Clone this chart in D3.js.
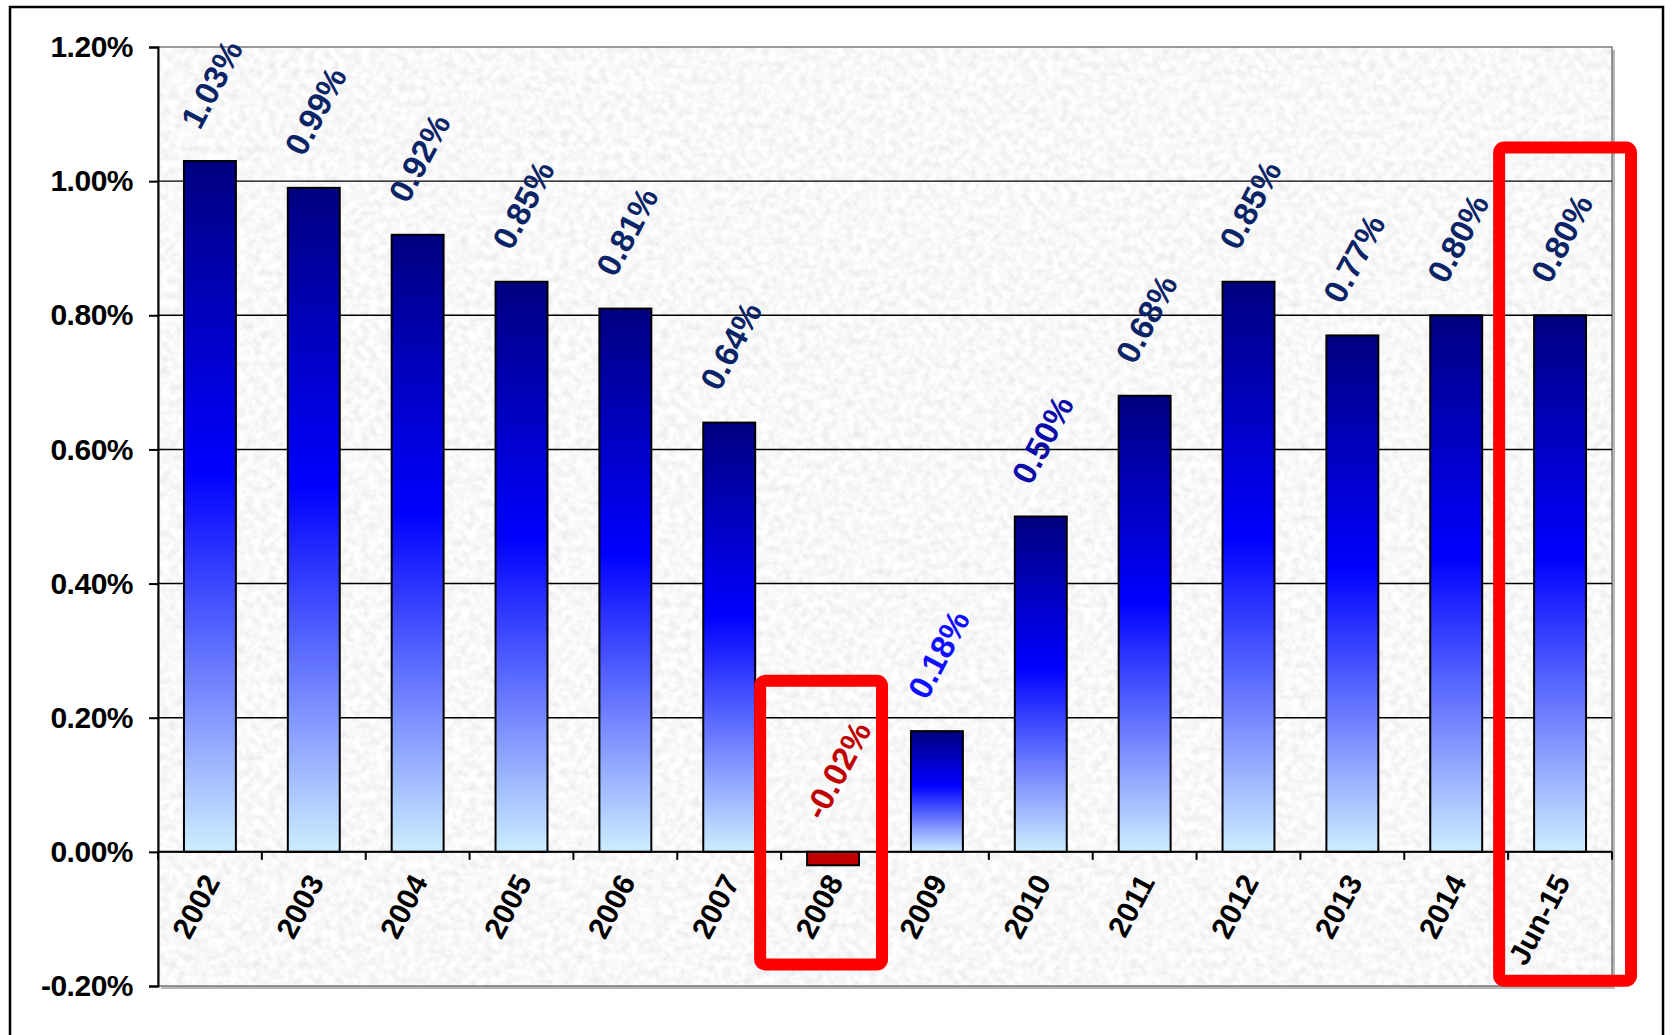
<!DOCTYPE html>
<html>
<head>
<meta charset="utf-8">
<script src="https://cdn.jsdelivr.net/npm/d3@7"></script>
<style>
  html, body { margin: 0; padding: 0; background: #ffffff; }
  svg { display: block; font-family: "Liberation Sans", Arial, sans-serif; }
</style>
</head>
<body>
<svg id="chart" width="1677" height="1035"></svg>
<script>
// Annual return per period
const categories = ["2002", "2003", "2004", "2005", "2006", "2007", "2008",
                    "2009", "2010", "2011", "2012", "2013", "2014", "Jun-15"];
const values = [1.03, 0.99, 0.92, 0.85, 0.81, 0.64, -0.02,
                0.18, 0.50, 0.68, 0.85, 0.77, 0.80, 0.80];
const yTicks = [-0.2, 0, 0.2, 0.4, 0.6, 0.8, 1.0, 1.2];
const highlighted = ["2008", "Jun-15"];

// Label colours by period
const labelColor = {
  "2008": "#c00000",
  "2009": "#1010ff",
  "2010": "#0c0ca8"
};
const defaultLabelColor = "#0b2466";

// Percent text with a plain hyphen for negatives
const pct = v => (v < 0 ? "-" : "") + Math.abs(v).toFixed(2) + "%";

const svg = d3.select("#chart");
const plot = { left: 158, right: 1612, top: 47, bottom: 986 };

const x = d3.scaleBand()
  .domain(categories)
  .range([plot.left, plot.right])
  .paddingInner(0.5)
  .paddingOuter(0.25);

const y = d3.scaleLinear()
  .domain([-0.2, 1.2])
  .range([plot.bottom, plot.top]);

const defs = svg.append("defs");

// Speckled stone texture for the plot background
const granite = defs.append("filter")
  .attr("id", "granite")
  .attr("x", 0).attr("y", 0).attr("width", "100%").attr("height", "100%");
granite.append("feTurbulence")
  .attr("type", "fractalNoise")
  .attr("baseFrequency", 0.13)
  .attr("numOctaves", 3)
  .attr("seed", 7)
  .attr("result", "noise");
granite.append("feColorMatrix")
  .attr("in", "noise")
  .attr("type", "matrix")
  .attr("values", "0.30 0 0 0 0.79  0.30 0 0 0 0.79  0.30 0 0 0 0.79  0 0 0 0 1");

// Vertical gradient of the positive bars
const grad = defs.append("linearGradient")
  .attr("id", "barGrad")
  .attr("x1", 0).attr("y1", 0).attr("x2", 0).attr("y2", 1);
grad.append("stop").attr("offset", "0%").attr("stop-color", "#000080");
grad.append("stop").attr("offset", "45%").attr("stop-color", "#0000ff");
grad.append("stop").attr("offset", "100%").attr("stop-color", "#cceeff");

// Outer chart frame
svg.append("rect")
  .attr("x", 10).attr("y", 7)
  .attr("width", 1653).attr("height", 1060)
  .attr("fill", "#ffffff")
  .attr("stroke", "#000").attr("stroke-width", 2.5);

// Plot area shadow and background
svg.append("rect")
  .attr("x", plot.left + 3).attr("y", plot.top + 3)
  .attr("width", plot.right - plot.left).attr("height", plot.bottom - plot.top)
  .attr("fill", "#b8b8b8");
svg.append("rect")
  .attr("x", plot.left).attr("y", plot.top)
  .attr("width", plot.right - plot.left).attr("height", plot.bottom - plot.top)
  .attr("fill", "#efefef")
  .attr("filter", "url(#granite)");
svg.append("rect")
  .attr("x", plot.left).attr("y", plot.top)
  .attr("width", plot.right - plot.left).attr("height", plot.bottom - plot.top)
  .attr("fill", "none")
  .attr("stroke", "#7a7a7a").attr("stroke-width", 1.5);

// Horizontal gridlines
svg.append("g")
  .selectAll("line")
  .data(yTicks.filter(t => t > -0.2 && t < 1.2))
  .join("line")
  .attr("x1", plot.left).attr("x2", plot.right)
  .attr("y1", d => y(d)).attr("y2", d => y(d))
  .attr("stroke", "#000").attr("stroke-width", 1.4);

// Y axis
const yAxis = svg.append("g")
  .attr("transform", `translate(${plot.left},0)`)
  .call(d3.axisLeft(y).tickValues(yTicks).tickSize(9).tickPadding(16)
        .tickFormat(pct));
yAxis.select(".domain").attr("stroke", "#000").attr("stroke-width", 2);
yAxis.selectAll(".tick line").attr("stroke", "#000").attr("stroke-width", 2);
yAxis.selectAll(".tick text")
  .attr("fill", "#000")
  .style("font-size", "30px")
  .style("font-weight", "bold")
  .style("letter-spacing", "-0.5px");

// Bars
svg.append("g")
  .selectAll("rect")
  .data(categories.map((c, i) => ({ c, v: values[i] })))
  .join("rect")
  .attr("x", d => x(d.c))
  .attr("width", x.bandwidth())
  .attr("y", d => y(Math.max(0, d.v)))
  .attr("height", d => Math.abs(y(d.v) - y(0)))
  .attr("fill", d => d.v < 0 ? "#c00000" : "url(#barGrad)")
  .attr("stroke", "#000").attr("stroke-width", 2);

// Zero line with category ticks
svg.append("line")
  .attr("x1", plot.left).attr("x2", plot.right)
  .attr("y1", y(0)).attr("y2", y(0))
  .attr("stroke", "#000").attr("stroke-width", 2);
const step = x.step();
svg.append("g")
  .selectAll("line")
  .data(d3.range(categories.length + 1))
  .join("line")
  .attr("x1", i => plot.left + i * step)
  .attr("x2", i => plot.left + i * step)
  .attr("y1", y(0)).attr("y2", y(0) + 8)
  .attr("stroke", "#000").attr("stroke-width", 2);

// Category labels
const angle = -62;
svg.append("g")
  .selectAll("text")
  .data(categories)
  .join("text")
  .attr("text-anchor", "end")
  .attr("transform", d =>
    `translate(${x(d) + x.bandwidth() / 2 + 11},${y(0) + 30}) rotate(${angle})`)
  .attr("fill", "#000")
  .style("font-size", "30px")
  .style("font-weight", "bold")
  .text(d => d);

// Value labels
svg.append("g")
  .selectAll("text")
  .data(categories.map((c, i) => ({ c, v: values[i] })))
  .join("text")
  .attr("text-anchor", "start")
  .attr("transform", d =>
    `translate(${x(d.c) + x.bandwidth() / 2 - 10},${y(Math.max(0, d.v)) - 30}) rotate(${angle})`)
  .attr("fill", d => labelColor[d.c] || defaultLabelColor)
  .style("font-size", "33px")
  .style("font-weight", "bold")
  .text(d => pct(d.v));

// Red callout boxes
const boxes = [
  { c: highlighted[0], top: 0.255, bottom: -0.168, padL: 21, padR: 3 },
  { c: highlighted[1], top: 1.05, bottom: -0.192, padL: 9, padR: -19 }
];
svg.append("g")
  .selectAll("rect")
  .data(boxes)
  .join("rect")
  .attr("x", d => x(d.c) - x.bandwidth() / 2 - d.padL)
  .attr("width", d => step + d.padL - d.padR)
  .attr("y", d => y(d.top))
  .attr("height", d => y(d.bottom) - y(d.top))
  .attr("rx", 5).attr("ry", 5)
  .attr("fill", "none")
  .attr("stroke", "#ff0000").attr("stroke-width", 12);
</script>
</body>
</html>
